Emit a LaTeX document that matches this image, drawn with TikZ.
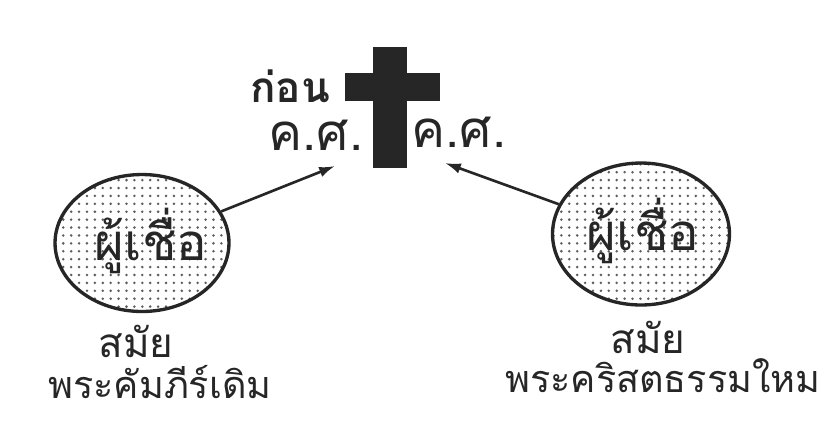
\documentclass[tikz,border=0pt]{standalone}
\usepackage{fontspec}
\newfontfamily\thaifont[Script=Thai]{Loma}
\usetikzlibrary{shapes.geometric,positioning,arrows.meta,patterns.meta}
\definecolor{inkdark}{HTML}{262626}
\definecolor{dotgray}{HTML}{5E5E5E}

\begin{document}
\begin{tikzpicture}[
    x=0.02cm, y=-0.02cm,
    >={Latex[length=9pt,width=6pt]},
    every node/.style={font=\thaifont, text=inkdark},
    believer/.style={
        draw=inkdark,
        line width=1.9pt,
        ellipse,
        inner sep=0pt,
        pattern={Dots[distance=4.5pt,radius=0.8pt]},
        pattern color=dotgray
    },
    believertext/.style={font=\thaifont\fontsize{29}{32}\selectfont, anchor=base},
    bar/.style={fill=inkdark, inner sep=0pt},
    era/.style={font=\thaifont\fontsize{23}{26}\selectfont, anchor=base, inner sep=0pt},
    epoch/.style={font=\thaifont\fontsize{29}{32}\selectfont, anchor=base, inner sep=0pt},
    edge/.style={->, line width=1.5pt, draw=inkdark}
]
\useasboundingbox (0,0) rectangle (826,441);

% the cross
\node[bar, minimum width=0.7cm, minimum height=2.42cm] (stem) at (390,107.5) {};
\node[bar, minimum width=1.9cm, minimum height=0.56cm] (beam) at (392.5,87) {};

\node[era, font=\thaifont\bfseries\fontsize{24}{28}\selectfont] (before) at (290,102) {ก่อน};
\node[epoch] (bcleft) at (316,150) {ค.ศ.};
\node[epoch] (adright) at (459,147) {ค.ศ.};

% believers
\node[believer, minimum width=3.48cm, minimum height=2.74cm] (oldbeliever) at (142,243) {};
\node[believer, minimum width=3.54cm, minimum height=2.84cm] (newbeliever) at (641,234) {};
\node[believertext] (oldlabel) at (151,260) {ผู้เชื่อ};
\node[believertext] (newlabel) at (643,250) {ผู้เชื่อ};

\coordinate (lefttip) at (335,166);
\coordinate (righttip) at (445,163);
\draw[edge] (oldbeliever) -- (lefttip);
\draw[edge] (newbeliever) -- (righttip);

% eras
\node[era] (oldera) at (136,357) {สมัย};
\node[era, font=\thaifont\fontsize{21.5}{24}\selectfont] (oldname) at (160,398) {พระคัมภีร์เดิม};
\node[era] (newera) at (648,353) {สมัย};
\node[era, font=\thaifont\fontsize{21.5}{24}\selectfont] (newname) at (663,392) {พระคริสตธรรมใหม};

\end{tikzpicture}
\end{document}
